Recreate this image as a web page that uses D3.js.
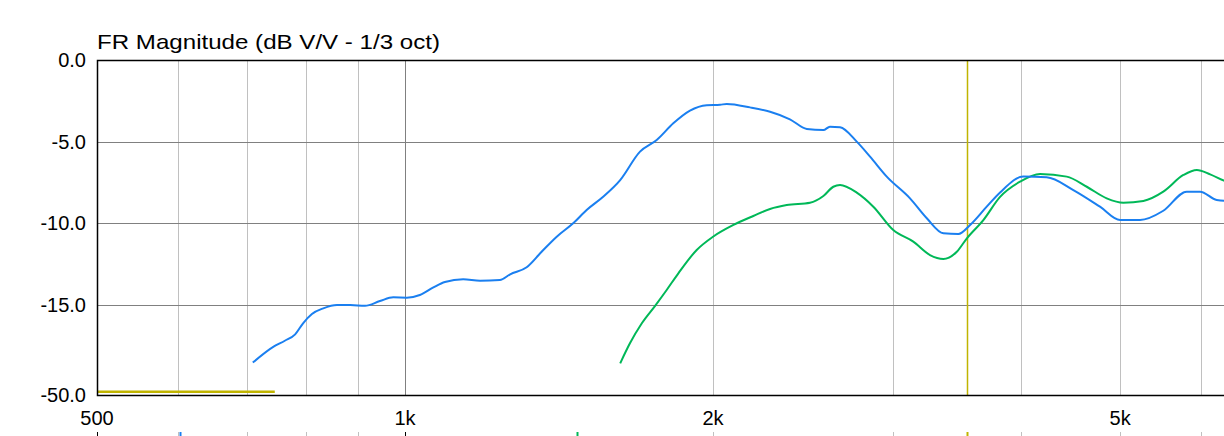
<!DOCTYPE html>
<html>
<head>
<meta charset="utf-8">
<script src="https://cdn.jsdelivr.net/npm/d3@7"></script>
<style>
  body { margin: 0; background: #fff; }
  svg { display: block; font-family: "Liberation Sans", Arial, sans-serif; }
</style>
</head>
<body>
<div id="chart"></div>
<script>
var w = 1224;
var h = 436;

// traces: frequency (Hz) and magnitude (dB)
var blueFreq = [710, 744, 763, 781, 795, 811, 832, 858, 884, 914, 945, 974, 1004, 1034, 1066, 1094, 1140, 1184, 1238, 1267, 1315, 1360, 1407, 1460, 1505, 1562, 1623, 1697, 1762, 1829, 1899, 1972, 2032, 2063, 2174, 2274, 2378, 2470, 2564, 2602, 2662, 2764, 2848, 2957, 3116, 3236, 3359, 3474, 3567, 3703, 3816, 4021, 4238, 4500, 4778, 5000, 5229, 5510, 5808, 5985, 6213, 6316, 6500];
var blueDb = [-37.4, -31.2, -28.9, -26.4, -22.1, -18.5, -16.3, -15.0, -15.0, -15.3, -14.76, -14.53, -14.55, -14.39, -13.92, -13.59, -13.43, -13.51, -13.47, -13.12, -12.69, -11.74, -10.82, -10.0, -9.18, -8.37, -7.35, -5.61, -4.9, -3.88, -3.1, -2.77, -2.74, -2.69, -2.9, -3.17, -3.63, -4.22, -4.29, -4.08, -4.12, -5.0, -5.92, -7.14, -8.47, -9.69, -10.61, -10.65, -10.1, -8.98, -8.11, -7.14, -7.18, -7.96, -8.98, -9.8, -9.8, -9.23, -8.06, -8.06, -8.57, -8.61, -8.6];

var greenFreq = [1623, 1659, 1704, 1755, 1802, 1850, 1928, 2000, 2094, 2190, 2274, 2361, 2488, 2564, 2622, 2662, 2764, 2869, 3001, 3139, 3259, 3359, 3462, 3540, 3675, 3816, 3991, 4175, 4434, 4638, 4851, 5036, 5268, 5510, 5765, 5942, 6122, 6316, 6500];
var greenDb = [-37.7, -29.9, -22.1, -15.4, -14.08, -13.06, -11.63, -10.82, -10.1, -9.55, -9.12, -8.88, -8.74, -8.33, -7.76, -7.65, -8.12, -8.98, -10.41, -11.12, -11.94, -12.18, -11.74, -10.93, -9.8, -8.38, -7.45, -6.98, -7.14, -7.76, -8.47, -8.74, -8.63, -8.06, -7.04, -6.73, -7.0, -7.39, -7.7];

var yellowFreq = [500, 746];
var yellowDb = [-48.7, -48.7];
var cursorFreq = 3542;

// bottom strip markers (cut off at the bottom of the picture)
var markerFreq = [603, 1473, 3542];

var yTicks = [0, -5, -10, -15, -50];
var xLabelValues = [500, 1000, 2000, 5000];
var xLabels = ['500', '1k', '2k', '5k'];
var xGrid = [600, 700, 800, 900, 1000, 2000, 3000, 4000, 5000, 6000, 7000, 8000, 9000];
var decades = [1000, 10000];

var plotLeft = 97;
var plotTop = 60;
var plotBottom = 395;

var x = d3.scaleLog()
  .domain([500, 20000])
  .range([plotLeft, plotLeft + 308 * Math.log2(40)]);

var y = d3.scaleLinear()
  .domain([0, -15, -50])
  .range([plotTop, 305, plotBottom]);

var svg = d3.select('#chart')
  .append('svg')
  .attr('width', w)
  .attr('height', h);

// title
svg.append('text')
  .attr('x', plotLeft)
  .attr('y', 49)
  .attr('font-size', '21px')
  .attr('textLength', 343)
  .attr('lengthAdjust', 'spacingAndGlyphs')
  .attr('fill', '#000')
  .text('FR Magnitude (dB V/V - 1/3 oct)');

// vertical grid
svg.selectAll('.vgrid')
  .data(xGrid)
  .enter()
  .append('line')
  .attr('class', 'vgrid')
  .attr('x1', function (d) { return Math.round(x(d)) + 0.5; })
  .attr('x2', function (d) { return Math.round(x(d)) + 0.5; })
  .attr('y1', plotTop)
  .attr('y2', plotBottom)
  .attr('stroke', function (d) { return decades.indexOf(d) >= 0 ? '#808080' : '#c0c0c0'; })
  .attr('stroke-width', 1);

// horizontal grid
svg.selectAll('.hgrid')
  .data(yTicks.slice(1, -1))
  .enter()
  .append('line')
  .attr('class', 'hgrid')
  .attr('x1', plotLeft)
  .attr('x2', w)
  .attr('y1', function (d) { return Math.round(y(d)) + 0.5; })
  .attr('y2', function (d) { return Math.round(y(d)) + 0.5; })
  .attr('stroke', '#808080')
  .attr('stroke-width', 1);

// ticks below the plot
svg.selectAll('.xtick')
  .data([500].concat(xGrid))
  .enter()
  .append('line')
  .attr('class', 'xtick')
  .attr('x1', function (d) { return Math.round(x(d)) + 0.5; })
  .attr('x2', function (d) { return Math.round(x(d)) + 0.5; })
  .attr('y1', 432)
  .attr('y2', h)
  .attr('stroke', function (d) { return (d == 500 || decades.indexOf(d) >= 0) ? '#000' : '#c0c0c0'; });

var markerColors = ['#1a7ff0', '#00b858', '#c0b400'];
svg.selectAll('.marker')
  .data(markerFreq)
  .enter()
  .append('line')
  .attr('class', 'marker')
  .attr('x1', function (d) { return Math.round(x(d)) + 0.5; })
  .attr('x2', function (d) { return Math.round(x(d)) + 0.5; })
  .attr('y1', 432)
  .attr('y2', h)
  .attr('stroke', function (d, i) { return markerColors[i]; })
  .attr('stroke-width', 2);

// cursor
svg.append('line')
  .attr('x1', Math.round(x(cursorFreq)) + 0.5)
  .attr('x2', Math.round(x(cursorFreq)) + 0.5)
  .attr('y1', plotTop)
  .attr('y2', plotBottom)
  .attr('stroke', '#c0b400')
  .attr('stroke-width', 1.5);

// traces
var line = d3.line()
  .x(function (d) { return x(d[0]); })
  .y(function (d) { return y(d[1]); })
  .curve(d3.curveMonotoneX);

svg.append('path')
  .datum(d3.zip(yellowFreq, yellowDb))
  .attr('d', line)
  .attr('fill', 'none')
  .attr('stroke', '#c0b400')
  .attr('stroke-width', 2.5);

svg.append('path')
  .datum(d3.zip(greenFreq, greenDb))
  .attr('d', line)
  .attr('fill', 'none')
  .attr('stroke', '#00b858')
  .attr('stroke-width', 2);

svg.append('path')
  .datum(d3.zip(blueFreq, blueDb))
  .attr('d', line)
  .attr('fill', 'none')
  .attr('stroke', '#1a7ff0')
  .attr('stroke-width', 2);

// plot border (top, left, bottom)
svg.append('path')
  .attr('d', 'M' + w + ',' + (plotTop + 0.5) + 'H' + (plotLeft + 0.5) + 'V' + (plotBottom + 0.5) + 'H' + w)
  .attr('fill', 'none')
  .attr('stroke', '#000')
  .attr('stroke-width', 1.5);

// y labels
svg.selectAll('.ylabel')
  .data(yTicks)
  .enter()
  .append('text')
  .attr('class', 'ylabel')
  .attr('x', 86)
  .attr('y', function (d) { return y(d); })
  .attr('dy', '0.35em')
  .attr('text-anchor', 'end')
  .attr('font-size', '20px')
  .text(function (d) { return d.toFixed(1); });

// x labels
svg.selectAll('.xlabel')
  .data(xLabelValues)
  .enter()
  .append('text')
  .attr('class', 'xlabel')
  .attr('x', function (d) { return x(d); })
  .attr('y', 425)
  .attr('text-anchor', 'middle')
  .attr('font-size', '20px')
  .text(function (d, i) { return xLabels[i]; });
</script>
</body>
</html>
